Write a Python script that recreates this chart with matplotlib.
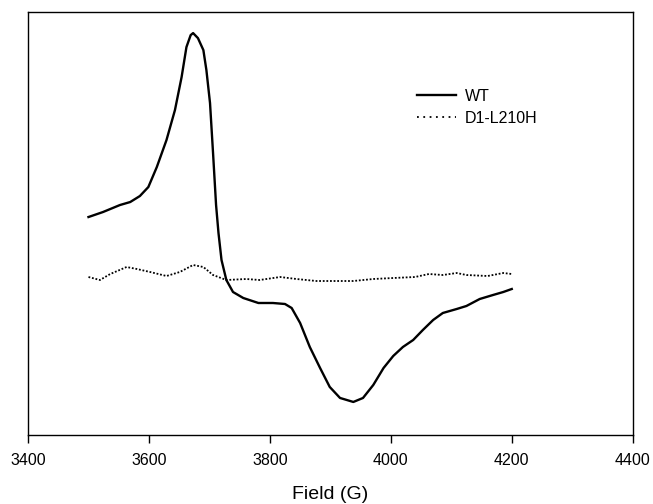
import matplotlib
matplotlib.use("Agg")
import matplotlib.pyplot as plt
from matplotlib.lines import Line2D

plt.rcParams["font.family"] = ["Liberation Sans", "DejaVu Sans"]

# EPR spectra (arbitrary intensity units, baseline ~0)
wt_field = [3500, 3524, 3552, 3569, 3585, 3599, 3613, 3629, 3643, 3654,
            3662, 3669, 3673, 3681, 3690, 3695, 3701, 3706, 3711, 3715,
            3720, 3728, 3739, 3756, 3781, 3805, 3825, 3836, 3850, 3866,
            3883, 3899, 3916, 3938, 3954, 3971, 3988, 4004, 4020, 4037,
            4053, 4070, 4086, 4109, 4125, 4147, 4169, 4186, 4200]
wt_signal = [60, 65, 72, 75, 81, 90, 110, 137, 167, 200,
             230, 242, 244, 239, 227, 207, 174, 124, 72, 44,
             17, -3, -15, -21, -26, -26, -27, -31, -46, -70,
             -91, -110, -121, -125, -121, -108, -91, -79, -70, -63,
             -53, -43, -36, -32, -29, -22, -18, -15, -12]

mut_field = [3500, 3519, 3536, 3563, 3580, 3602, 3629, 3651, 3673, 3690,
             3706, 3728, 3761, 3783, 3817, 3844, 3877, 3905, 3938, 3971,
             4004, 4040, 4063, 4086, 4109, 4125, 4160, 4186, 4200]
mut_signal = [0, -3, 3, 10, 8, 5, 1, 5, 12, 10,
              2, -3, -2, -3, 0, -2, -4, -4, -4, -2,
              -1, 0, 3, 2, 4, 2, 1, 4, 3]

x_ticks = [3400, 3600, 3800, 4000, 4200, 4400]

fig = plt.figure(figsize=(6.53, 5.04), dpi=100)
ax = fig.add_axes([0.0429, 0.137, 0.926, 0.839])

ax.plot(wt_field, wt_signal, color="black", lw=1.7, solid_joinstyle="round")
ax.plot(mut_field, mut_signal, color="black", lw=1.3, ls=(0, (1, 1)))

ax.set_xlim(3400, 4400)
ax.set_ylim(-158, 265)
ax.set_xticks(x_ticks)
ax.set_yticks([])
ax.tick_params(axis="x", direction="out", length=6, width=1, labelsize=11.5, pad=7)
for s in ax.spines.values():
    s.set_linewidth(1)

ax.set_xlabel("Field (G)", fontsize=14, labelpad=13)

handles = [Line2D([], [], color="black", lw=1.7),
           Line2D([], [], color="black", lw=1.3, ls=(0, (1, 2.5)))]
ax.legend(handles, ["WT", "D1-L210H"], loc="upper left",
          bbox_to_anchor=(0.643, 0.818), frameon=False,
          fontsize=11.5, handlelength=2.45, handletextpad=0.56,
          labelspacing=0.44, borderaxespad=0, borderpad=0)

fig.savefig("out.png", dpi=100)
